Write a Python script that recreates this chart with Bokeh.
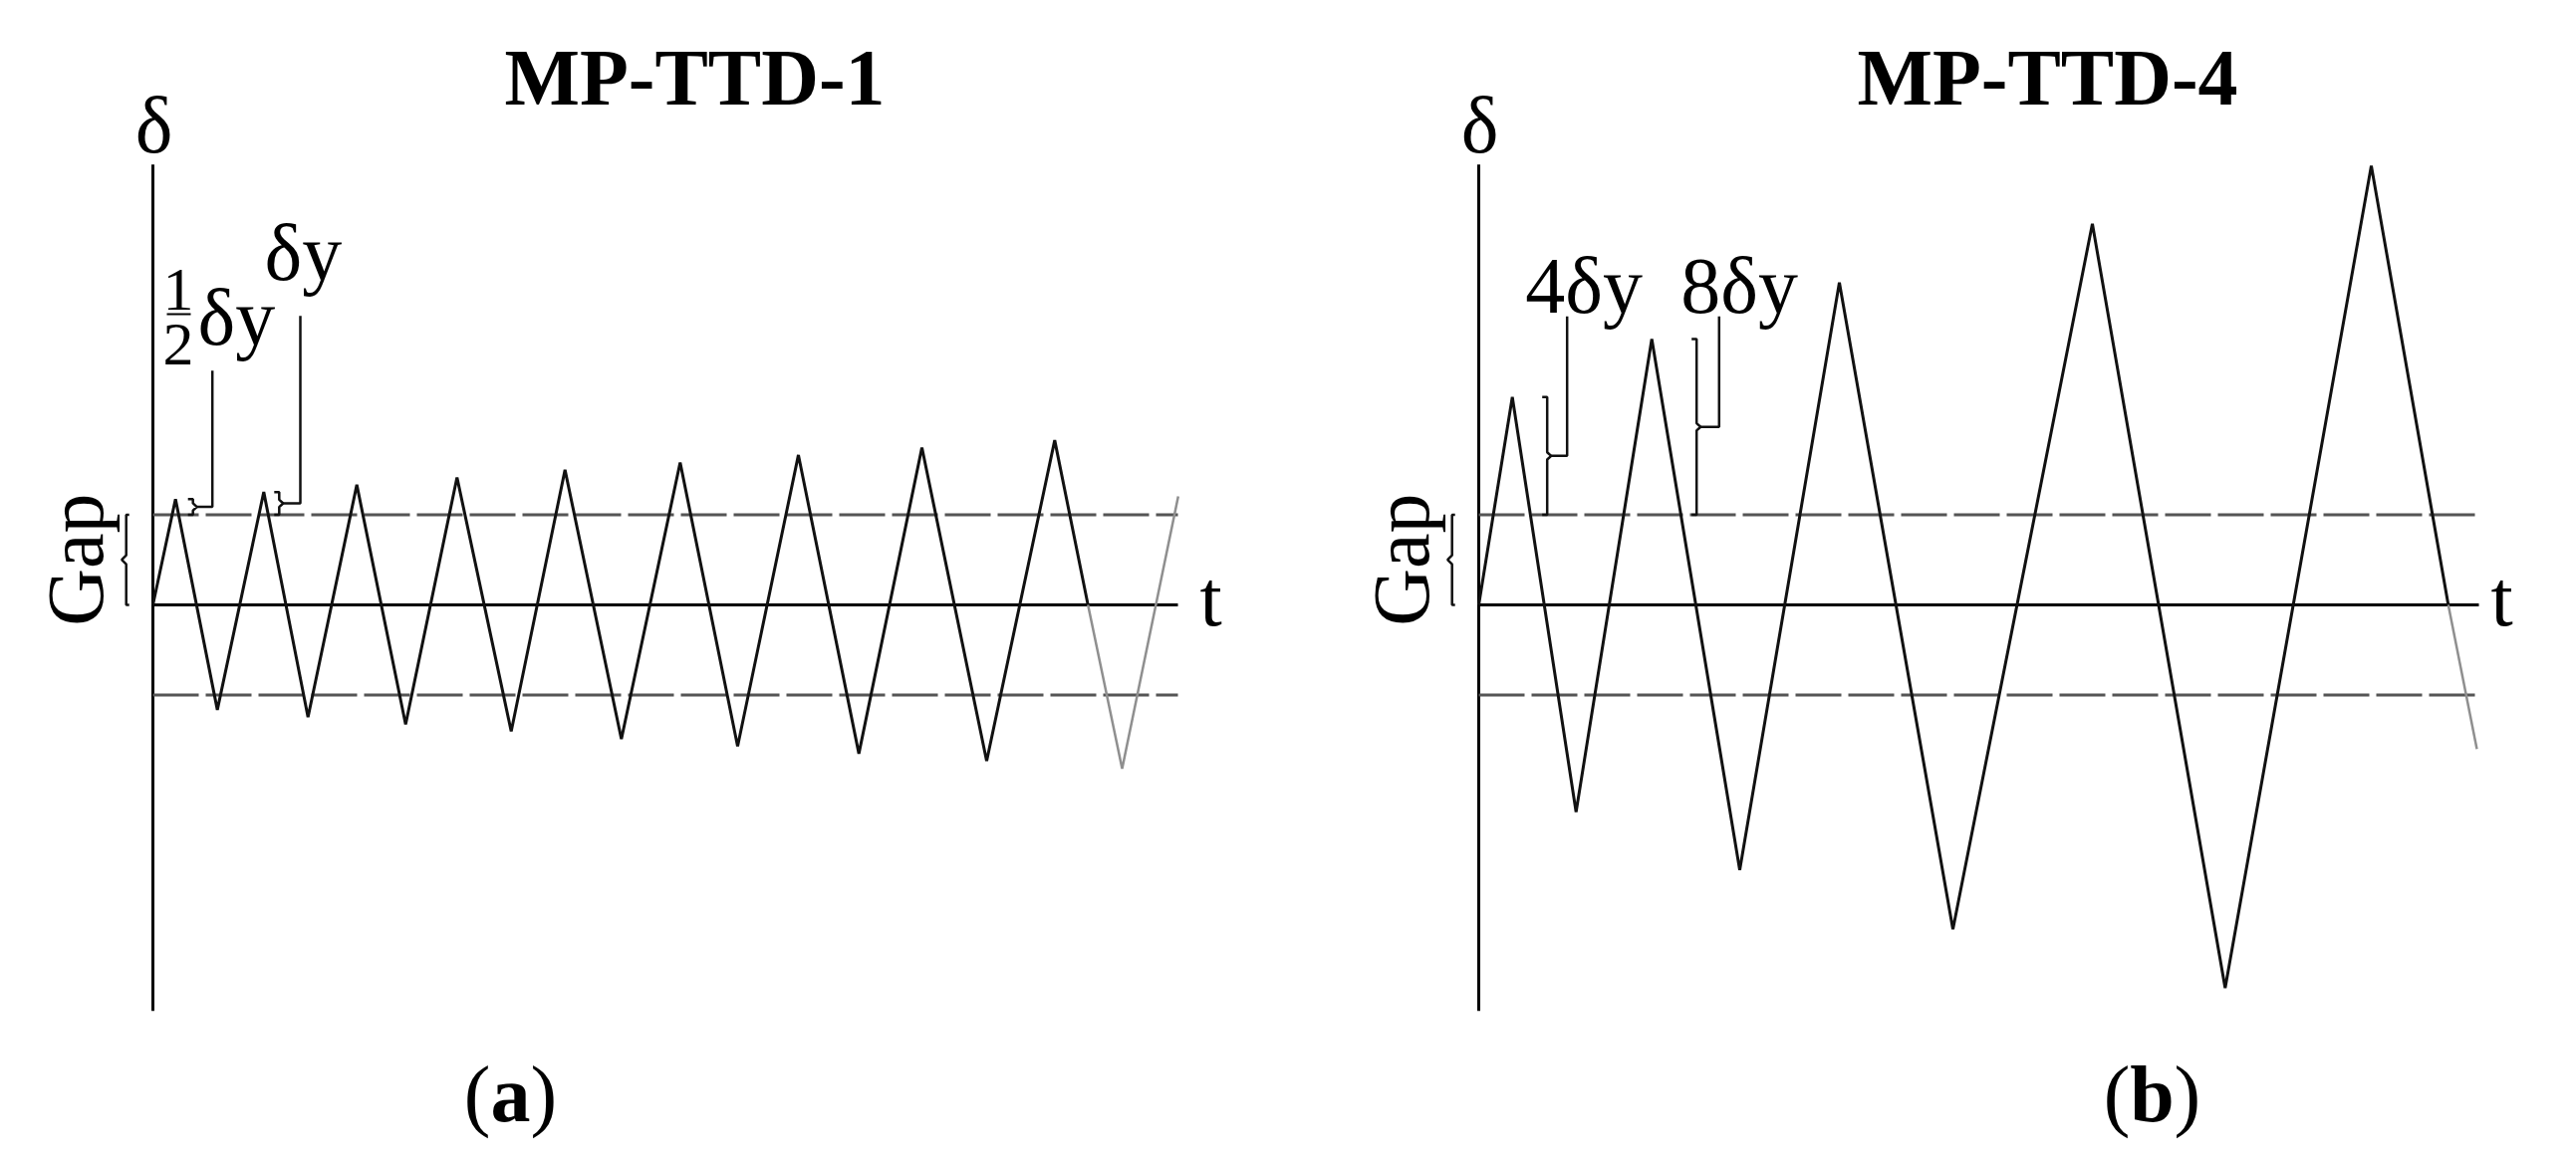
import math
from bokeh.plotting import figure
from bokeh.layouts import row
from bokeh.models import Range1d
from bokeh.core.properties import value
from bokeh.embed import file_html
from bokeh.resources import INLINE

# ---------------- data (t in arbitrary time units, delta in units of the gap) ----------------
GAP = 1.0
AXIS_TOP = 4.88
AXIS_BOTTOM = -4.50

# Panel (a) MP-TTD-1
A_T = [0, 2.27, 6.47, 11.13, 15.57, 20.47, 25.37, 30.53, 35.97, 41.37, 47.03,
       52.93, 58.7, 64.8, 70.87, 77.2, 83.7, 90.53, 93.87]
A_D = [0, 1.173, -1.163, 1.251, -1.244, 1.331, -1.325, 1.413, -1.402, 1.497, -1.487,
       1.578, -1.567, 1.662, -1.649, 1.744, -1.730, 1.825, 0]
A_T_TAIL = [93.87, 97.3, 102.93]
A_D_TAIL = [0, -1.815, 1.203]
A_T_END = 102.9

# Panel (b) MP-TTD-4
B_T = [0, 3.37, 9.77, 17.37, 26.2, 36.2, 47.6, 61.6, 74.93, 89.6, 97.33]
B_D = [0, 2.304, -2.296, 2.947, -2.939, 3.573, -3.595, 4.224, -4.246, 4.868, 0]
B_T_TAIL = [97.33, 100.2]
B_D_TAIL = [0, -1.597]
B_T_END = 100.4

TITLES = ["MP-TTD-1", "MP-TTD-4"]
SUBLABELS = ["a", "b"]
A_BRACE_LABELS = ["δy", "δy"]       # first one carries the 1/2 fraction
B_BRACE_LABELS = ["4δy", "8δy"]

# ---------------- layout helpers ----------------
W, H = 1285, 1153
Y_TOP, Y_BOT = 6.6998, -6.0265
PX_PER_D = 90.6      # screen px per delta unit
PX_PER_T = 10.0      # screen px per time unit
SERIF = "Liberation Serif"
INK = "#111111"
BASE_FIX = 0.31      # fraction of font size the renderer puts text below its baseline


def make_fig(x0, x1):
    p = figure(width=W, height=H, x_range=Range1d(x0, x1), y_range=Range1d(Y_BOT, Y_TOP),
               output_backend="svg", toolbar_location=None, min_border=0,
               x_axis_location=None, y_axis_location=None)
    p.grid.visible = False
    p.outline_line_color = None
    p.background_fill_color = "white"
    p.border_fill_color = "white"
    return p


def txt(p, x, y, s, size, bold=False, align="left", angle=0.0, xoff=0):
    shift = BASE_FIX * size
    if angle:
        x = x - shift / PX_PER_T
    else:
        y = y + shift / PX_PER_D
    p.text(x=[x], y=[y], text=[s], text_font=value(SERIF), text_font_size=value(f"{size}px"),
           text_font_style="bold" if bold else "normal", text_align=align,
           text_baseline="alphabetic", text_color="black",
           angle=angle, x_offset=xoff)


def frame(p, t_end):
    # delta axis and t axis
    p.line([0, 0], [AXIS_BOTTOM, AXIS_TOP], line_color="black", line_width=3)
    p.line([0, t_end], [0, 0], line_color="black", line_width=3)
    # gap lines
    for g in (GAP, -GAP):
        p.line([0, t_end], [g, g], line_color="#555555", line_width=3, line_dash="46 7")
    # Gap brace "{"
    xb = -2.68
    ym = GAP / 2
    p.line([xb + 0.3, xb, xb, xb - 0.45, xb, xb, xb + 0.3],
           [GAP, GAP, ym + 0.05, ym, ym - 0.05, 0, 0], line_color=INK, line_width=2.5)
    txt(p, -5.3, ym, "Gap", 80, align="center", angle=math.pi / 2)
    txt(p, 0.1, 5.044, "δ", 80, align="center")


def lead_brace(p, xv, y_top_val, lead_x, lead_top):
    ym = (GAP + y_top_val) / 2
    p.line([xv - 0.5, xv, xv, xv + 0.4, xv, xv, xv - 0.5],
           [y_top_val, y_top_val, ym + 0.04, ym, ym - 0.04, GAP, GAP],
           line_color=INK, line_width=2.5)
    p.line([xv + 0.4, lead_x, lead_x], [ym, ym, lead_top], line_color=INK, line_width=2.5)


# ---------------- panel (a) ----------------
pa = make_fig(-15.3, 113.2)
frame(pa, A_T_END)
pa.line(A_T, A_D, line_color=INK, line_width=3)
pa.line(A_T_TAIL, A_D_TAIL, line_color="#8f8f8f", line_width=2.5)
txt(pa, 105.1, -0.2, "t", 80)
txt(pa, 54.4, 5.574, TITLES[0], 80, bold=True, align="center")
# 1/2 dy bracket at first peak, dy bracket at second peak
lead_brace(pa, A_T[1] + 1.75, A_D[1], 5.97, 2.597)
lead_brace(pa, A_T[3] + 1.55, A_D[3], 14.8, 3.204)
txt(pa, 2.55, 3.278, "1", 62, align="center")
pa.line([1.4, 3.8], [3.223, 3.223], line_color="black", line_width=2)
txt(pa, 2.55, 2.671, "2", 62, align="center")
txt(pa, 4.5, 2.914, A_BRACE_LABELS[0], 80)
txt(pa, 11.2, 3.631, A_BRACE_LABELS[1], 80)
txt(pa, 35.9, -5.70, SUBLABELS[0], 80, bold=True, align="center")
txt(pa, 35.9, -5.70, "(", 80, align="right", xoff=-20)
txt(pa, 35.9, -5.70, ")", 80, align="left", xoff=20)

# ---------------- panel (b) ----------------
pb = make_fig(-19.9, 108.6)
frame(pb, B_T_END)
pb.line(B_T, B_D, line_color=INK, line_width=3)
pb.line(B_T_TAIL, B_D_TAIL, line_color="#8f8f8f", line_width=2.5)
txt(pb, 101.6, -0.2, "t", 80)
txt(pb, 57.1, 5.574, TITLES[1], 80, bold=True, align="center")
lead_brace(pb, B_T[1] + 3.5, B_D[1], 8.87, 3.198)
lead_brace(pb, B_T[3] + 4.5, B_D[3], 24.13, 3.198)
txt(pb, 4.67, 3.26, B_BRACE_LABELS[0], 80)
txt(pb, 20.27, 3.26, B_BRACE_LABELS[1], 80)
txt(pb, 67.6, -5.70, SUBLABELS[1], 80, bold=True, align="center")
txt(pb, 67.6, -5.70, "(", 80, align="right", xoff=-22)
txt(pb, 67.6, -5.70, ")", 80, align="left", xoff=22)

layout = row(pa, pb)
open("out.html", "w").write(file_html(layout, INLINE))
